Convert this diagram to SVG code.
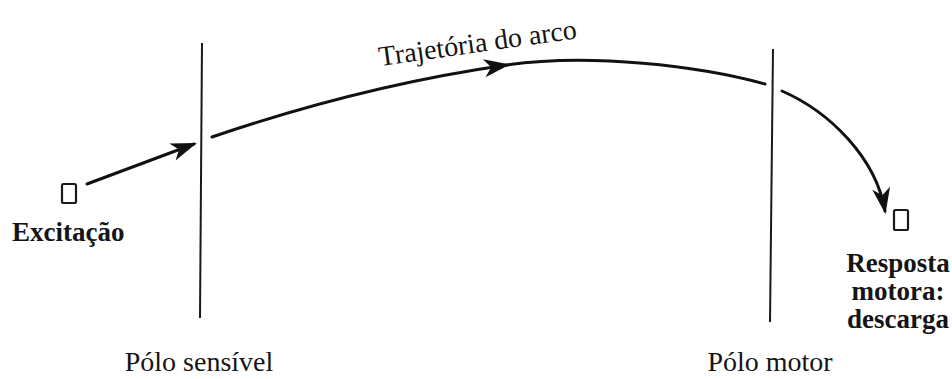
<svg xmlns="http://www.w3.org/2000/svg" width="952" height="379" viewBox="0 0 952 379">
  <style>
    .lbl { font-family: "Liberation Serif", "Times New Roman", serif; fill: #151515; }
    .reg { font-size: 28px; }
    .bold { font-size: 27px; font-weight: bold; }
    .pole { stroke: #1a1a1a; stroke-width: 2; fill: none; }
    .arc { stroke: #111; stroke-width: 3; fill: none; stroke-linecap: round; }
    .box { stroke: #1a1a1a; stroke-width: 2.2; fill: none; }
  </style>
  <defs>
    <marker id="arrow" markerUnits="userSpaceOnUse" markerWidth="32" markerHeight="20" refX="23" refY="9" orient="auto" overflow="visible">
      <path d="M0,0 L26,9 L0,18 L7,9 Z" fill="#111"/>
    </marker>
  </defs>
  <rect width="952" height="379" fill="#fff"/>

  <g id="polo-sensivel">
    <line class="pole" x1="202" y1="43" x2="200" y2="318"/>
    <text class="lbl reg" x="199" y="371" text-anchor="middle">Pólo sensível</text>
  </g>

  <g id="polo-motor">
    <line class="pole" x1="773" y1="49" x2="770" y2="322"/>
    <text class="lbl reg" x="770" y="371" text-anchor="middle">Pólo motor</text>
  </g>

  <g id="excitacao">
    <rect class="box" x="62" y="184" width="14" height="19" rx="1.5"/>
    <text class="lbl bold" x="12" y="241">Excitação</text>
  </g>

  <g id="resposta">
    <rect class="box" x="894" y="210" width="14" height="20" rx="1.5"/>
    <text class="lbl bold" x="898" y="272" text-anchor="middle">Resposta</text>
    <text class="lbl bold" x="898" y="300" text-anchor="middle">motora:</text>
    <text class="lbl bold" x="898" y="328" text-anchor="middle">descarga</text>
  </g>

  <g id="trajetoria-label">
    <text class="lbl reg" x="380" y="66" transform="rotate(-8 380 66)">Trajetória do arco</text>
  </g>

  <g id="connectors">
    <path class="arc" d="M87,184 L194,144" marker-end="url(#arrow)"/>
    <path class="arc" d="M212,137 C309,104 409,79 507,65" marker-end="url(#arrow)"/>
    <path class="arc" d="M507,65 C590,53 700,66 765,84"/>
    <path class="arc" d="M782,91 C830,112 876,158 885,211" marker-end="url(#arrow)"/>
  </g>
</svg>
